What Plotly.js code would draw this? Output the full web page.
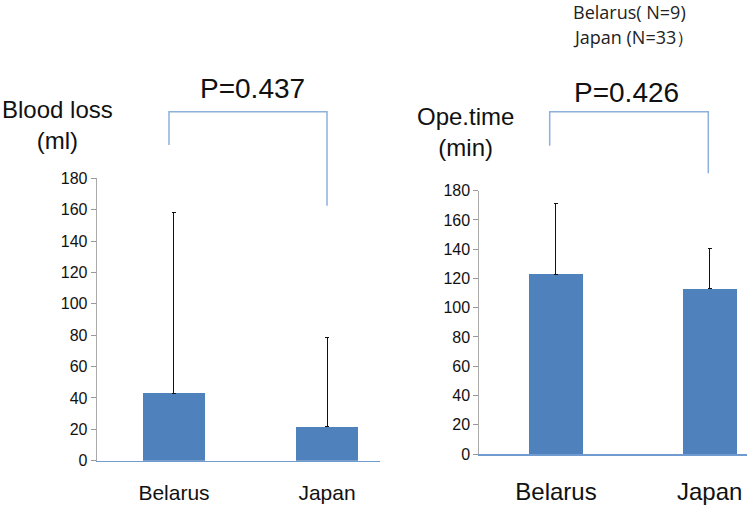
<!DOCTYPE html>
<html>
<head>
<meta charset="utf-8">
<script src="https://cdn.plot.ly/plotly-3.0.1.min.js"></script>
<style>
  html, body { margin: 0; padding: 0; background: #fff; }
  #plot { width: 750px; height: 509px; }
</style>
</head>
<body>
<div id="plot"></div>
<script>
// groups compared
const groups = ['Belarus', 'Japan'];
const groupN = [9, 33];

// blood loss (ml): mean and SD
const bloodLossMean = [43, 21.5];
const bloodLossSD = [115.5, 57];

// operation time (min): mean and SD
const opeTimeMean = [123, 113];
const opeTimeSD = [48, 27.6];

const pValues = ['0.437', '0.426'];
const yTicks = [0, 20, 40, 60, 80, 100, 120, 140, 160, 180];

// pixel -> paper helpers (page is 750x509)
const W = 750, H = 509;
const px = x => x / W;
const py = y => 1 - y / H;

const barColor = '#4f81bd';
const bracketColor = '#8db0dc';

function barTrace(means, sds, xa, ya, width) {
    return {
        type: 'bar',
        x: groups.map((_, i) => i),
        y: means,
        width: width,
        marker: { color: barColor, line: { width: 0 } },
        error_y: {
            type: 'data',
            symmetric: false,
            array: sds,
            arrayminus: sds.map(() => 0),
            color: '#111',
            thickness: 1,
            width: 2
        },
        xaxis: xa,
        yaxis: ya,
        hoverinfo: 'none'
    };
}

const traces = [
    barTrace(bloodLossMean, bloodLossSD, 'x', 'y', 0.4),
    barTrace(opeTimeMean, opeTimeSD, 'x2', 'y2', 0.35)
];

// shared axis styles
function xAxis(domain, range, fontSize, standoff) {
    return {
        domain: domain,
        range: range,
        tickvals: groups.map((_, i) => i),
        ticktext: groups,
        ticks: '',
        ticklabelstandoff: standoff,
        showline: true,
        linecolor: '#6f9bd1',
        linewidth: 1.5,
        showgrid: false,
        zeroline: false,
        tickfont: { family: 'Liberation Sans, Arial, sans-serif', size: fontSize, color: '#111' },
        fixedrange: true
    };
}

function yAxis(domain, anchor) {
    return {
        domain: domain,
        anchor: anchor,
        range: [0, 180],
        tickvals: yTicks,
        ticks: 'outside',
        ticklen: 5,
        tickcolor: '#999',
        showline: true,
        linecolor: '#aaa',
        linewidth: 1,
        showgrid: false,
        zeroline: false,
        tickfont: { family: 'Liberation Sans, Arial, sans-serif', size: 16, color: '#111' },
        fixedrange: true
    };
}

// significance brackets: [left x, right x, top y, left bottom y, right bottom y] in pixels
const brackets = [
    [169, 327, 111.7, 145, 205.7],
    [549.7, 708.3, 111.7, 145.7, 173.3]
];

const shapes = brackets.map(b => ({
    type: 'path',
    xref: 'paper',
    yref: 'paper',
    path: `M ${px(b[0])} ${py(b[3])} L ${px(b[0])} ${py(b[2])} L ${px(b[1])} ${py(b[2])} L ${px(b[1])} ${py(b[4])}`,
    line: { color: bracketColor, width: 1.5 }
}));

const textFont = { family: 'Liberation Sans, Arial, sans-serif', color: '#111' };
const noteFont = { family: 'Open Sans, Noto Sans, sans-serif', size: 18, color: '#222' };

const annotations = [
    // y titles
    { x: px(57), y: py(125), text: 'Blood loss<br>(ml)', font: { ...textFont, size: 24 } },
    { x: px(465), y: py(132), text: 'Ope.time<br>(min)', font: { ...textFont, size: 24 } },
    // p values
    { x: px(252), y: py(88), text: 'P=' + pValues[0], font: { ...textFont, size: 28 } },
    { x: px(626), y: py(92), text: 'P=' + pValues[1], font: { ...textFont, size: 28 } },
    // sample sizes
    { x: px(571), y: py(12), xanchor: 'left', text: groups[0] + '( N=' + groupN[0] + ')', font: noteFont },
    { x: px(571), y: py(37), xanchor: 'left', text: groups[1] + ' (N=' + groupN[1] + '）', font: noteFont }
].map(a => ({ xref: 'paper', yref: 'paper', showarrow: false, yanchor: 'middle',
              xanchor: 'center', align: 'center', ...a }));

const layout = {
    width: W,
    height: H,
    margin: { l: 0, r: 0, t: 0, b: 0 },
    paper_bgcolor: '#fff',
    plot_bgcolor: '#fff',
    showlegend: false,
    bargap: 0,
    xaxis: xAxis([px(96.7), px(380)], [-0.505, 1.346], 21, 13),
    yaxis: yAxis([py(460.7), py(178.3)], 'x'),
    xaxis2: xAxis([px(479.3), px(746.7)], [-0.499, 1.241], 24, 16),
    yaxis2: yAxis([py(454), py(190.7)], 'x2'),
    shapes: shapes,
    annotations: annotations
};
layout.xaxis.anchor = 'y';
layout.xaxis2.anchor = 'y2';

Plotly.newPlot('plot', traces, layout, { displayModeBar: false, staticPlot: true });
</script>
</body>
</html>
